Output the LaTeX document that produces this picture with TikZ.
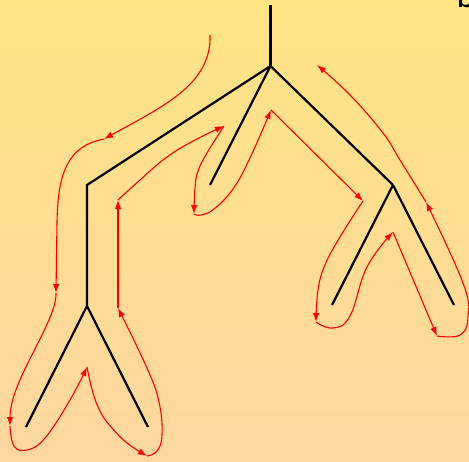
\documentclass[tikz,border=0pt]{standalone}
\usetikzlibrary{arrows.meta}
\definecolor{bgtop}{RGB}{255,228,132}
\definecolor{bgbot}{RGB}{254,214,160}
\definecolor{tour}{RGB}{255,0,0}
\begin{document}
\begin{tikzpicture}[x=1pt,y=-1pt,
  branch/.style={draw=black,line width=2.2pt},
  walk/.style={draw=tour,line width=1.1pt,-{Latex[length=9pt,width=6.5pt]}},
  walksm/.style={walk,smooth,tension=0.7}]
\useasboundingbox (0,0) rectangle (469,461);
\shade[top color=bgtop,bottom color=bgbot] (0,0) rectangle (469,461);
% glyph cut off at the top-right edge
\node[anchor=base west,inner sep=0pt,font=\sffamily\fontsize{40}{40}\selectfont] (glyph) at (456,7.5) {b};
% tree
\coordinate (top) at (270.5,5);
\coordinate (r) at (270.5,66);
\coordinate (a) at (87,185);
\coordinate (m) at (210,185);
\coordinate (b) at (393,185);
\coordinate (a2) at (87,306);
\coordinate (ll) at (26,427);
\coordinate (lr) at (148,427);
\coordinate (bl) at (332,305);
\coordinate (br) at (454,305);
\draw[branch] (top) -- (r);
\draw[branch] (r) -- (a) -- (a2);
\draw[branch] (r) -- (m);
\draw[branch] (r) -- (b);
\draw[branch] (a2) -- (ll);
\draw[branch] (a2) -- (lr);
\draw[branch] (b) -- (bl);
\draw[branch] (b) -- (br);
% tour points
\coordinate (p0) at (210,35);
\coordinate (p1) at (104,139);
\coordinate (p2) at (56,293);
\coordinate (p3) at (10,426);
\coordinate (p4) at (87,367);
\coordinate (p5) at (147,456);
\coordinate (p6) at (118,308);
\coordinate (p7) at (118,200);
\coordinate (p8) at (224,126);
\coordinate (p9) at (194,214);
\coordinate (p10) at (271,110);
\coordinate (p11) at (363,201);
\coordinate (p12) at (316,322);
\coordinate (p13) at (393,232);
\coordinate (p14) at (437,336);
\coordinate (p15) at (426,202);
\coordinate (p16) at (317,65);
% tour
\draw[walk] (p0) .. controls (212,85) and (160,108) .. (p1);
\draw[walk] (p1) .. controls (68,146) and (58,172) .. (57,222) -- (p2);
\draw[walk] (p2) .. controls (57,322) and (10,380) .. (p3);
\draw[walksm] plot coordinates {(p3) (14,446) (27,450) (45,438) (70,400) (p4)};
\draw[walksm] plot coordinates {(p4) (93,393) (101,413) (112,428) (127,443) (p5)};
\draw[walksm] plot coordinates {(p5) (157,451) (162,435) (159,402) (147,368) (p6)};
\draw[walk] (p6) -- (p7);
\draw[walksm] plot coordinates {(p7) (140,180) (167,157) (195,140) (p8)};
\draw[walksm] plot coordinates {(p8) (207,153) (198,171) (195,188) (p9)};
\draw[walksm] plot coordinates {(p9) (201,215) (214,209) (233,189) (250,158) (p10)};
\draw[walk] (p10) -- (p11);
\draw[walksm] plot coordinates {(p11) (340,237) (325,265) (318,290) (p12)};
\draw[walksm] plot coordinates {(p12) (333,328) (350,316) (367,267) (p13)};
\draw[walk] (p13) -- (p14);
\draw[walksm] plot coordinates {(p14) (460,335) (468,317) (463,283) (p15)};
\draw[walksm] plot coordinates {(p15) (400,160) (383,133) (350,95) (p16)};
\end{tikzpicture}
\end{document}
